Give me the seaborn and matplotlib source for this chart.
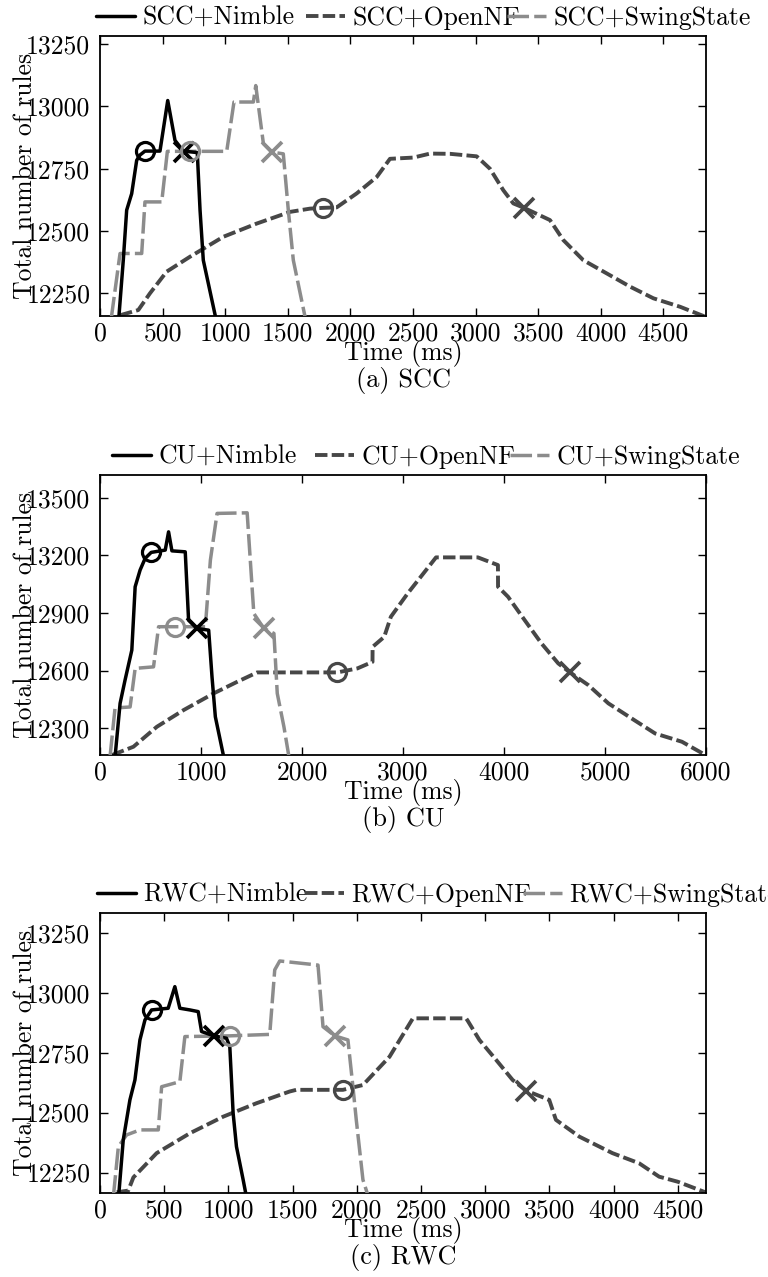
import matplotlib
matplotlib.use("Agg")
import matplotlib.pyplot as plt
from matplotlib.legend import Legend
import seaborn as sns

# ---------------- data (time in ms, total number of rules) ----------------
# (a) SCC
scc_nimble_t = [150, 186, 213, 253, 293, 319, 359, 479, 541, 599, 666, 777, 799, 825, 865, 925]
scc_nimble_v = [12150, 12383, 12584, 12650, 12784, 12805, 12821, 12821, 13024, 12864, 12821, 12815, 12584, 12383, 12290, 12150]
scc_opennf_t = [160, 306, 399, 532, 719, 985, 1251, 1518, 1677, 1779, 1890, 2050, 2210, 2316, 2503, 2636,
                2796, 3008, 3115, 3221, 3301, 3387, 3594, 3700, 3860, 4047, 4233, 4420, 4633, 4840]
scc_opennf_v = [12162, 12183, 12250, 12337, 12397, 12477, 12530, 12577, 12590, 12593, 12595, 12651, 12717, 12790, 12795, 12811,
                12810, 12800, 12750, 12664, 12611, 12593, 12544, 12464, 12383, 12330, 12277, 12230, 12196, 12155]
scc_swing_t = [90, 160, 333, 359, 493, 538, 719, 1012, 1070, 1225, 1244, 1305, 1371, 1464, 1504, 1544, 1640]
scc_swing_v = [12150, 12410, 12410, 12617, 12617, 12820, 12820, 12820, 13018, 13018, 13084, 12851, 12817, 12810, 12584, 12383, 12150]
scc_marks = {"nimble": [(359, 12821), (671, 12817)],
             "opennf": [(1779, 12593), (3387, 12593)],
             "swing": [(719, 12821), (1371, 12817)]}

# (b) CU
cu_nimble_t = [149, 199, 248, 315, 348, 397, 447, 507, 646, 679, 712, 844, 877, 960, 1076, 1109, 1142, 1225]
cu_nimble_v = [12150, 12429, 12550, 12706, 13036, 13123, 13184, 13215, 13227, 13322, 13223, 13218, 12862, 12819, 12810, 12567, 12359, 12150]
cu_opennf_t = [120, 331, 563, 828, 1126, 1358, 1556, 2351, 2549, 2698, 2699, 2814, 2880, 3046, 3327, 3741,
               3940, 3941, 4040, 4205, 4371, 4537, 4653, 4835, 5033, 5265, 5497, 5762, 5994]
cu_opennf_v = [12160, 12203, 12307, 12394, 12481, 12541, 12590, 12590, 12611, 12645, 12723, 12775, 12880, 13001, 13189, 13189,
               13149, 13036, 12984, 12862, 12741, 12637, 12590, 12524, 12429, 12350, 12272, 12229, 12160]
cu_swing_t = [99, 149, 298, 348, 530, 580, 745, 1043, 1093, 1159, 1457, 1523, 1622, 1722, 1755, 1821, 1871]
cu_swing_v = [12150, 12405, 12410, 12611, 12619, 12828, 12828, 12828, 13175, 13418, 13421, 12897, 12819, 12793, 12481, 12307, 12150]
cu_marks = {"nimble": [(507, 13215), (960, 12819)],
            "opennf": [(2351, 12590), (4653, 12590)],
            "swing": [(745, 12828), (1622, 12819)]}

# (c) RWC
rwc_nimble_t = [145, 181, 233, 272, 311, 350, 402, 531, 583, 622, 700, 765, 791, 887, 985, 1011, 1037, 1063, 1115, 1140]
rwc_nimble_v = [12150, 12386, 12553, 12636, 12803, 12886, 12928, 12935, 13025, 12935, 12928, 12921, 12838, 12820, 12810, 12775, 12497, 12358, 12220, 12150]
rwc_opennf_t = [130, 220, 260, 441, 700, 959, 1218, 1477, 1529, 1892, 2048, 2255, 2437, 2851, 2864, 2955,
                3085, 3214, 3318, 3499, 3551, 3733, 3992, 4199, 4355, 4500, 4715]
rwc_opennf_v = [12168, 12175, 12230, 12331, 12414, 12483, 12539, 12588, 12595, 12595, 12615, 12733, 12893, 12893, 12883, 12803,
                12720, 12636, 12592, 12553, 12470, 12400, 12331, 12289, 12233, 12212, 12168]
rwc_swing_t = [104, 143, 207, 311, 454, 480, 622, 661, 1011, 1322, 1361, 1400, 1698, 1737, 1828, 1931, 1970, 1996, 2048, 2090]
rwc_swing_v = [12150, 12358, 12407, 12428, 12428, 12608, 12629, 12817, 12820, 12826, 13095, 13132, 13115, 12858, 12820, 12803, 12608, 12470, 12220, 12150]
rwc_marks = {"nimble": [(402, 12928), (887, 12820)],
             "opennf": [(1892, 12595), (3318, 12592)],
             "swing": [(1011, 12820), (1828, 12820)]}

scc_xticks = [0, 500, 1000, 1500, 2000, 2500, 3000, 3500, 4000, 4500]
cu_xticks = [0, 1000, 2000, 3000, 4000, 5000, 6000]
rwc_xticks = [0, 500, 1000, 1500, 2000, 2500, 3000, 3500, 4000, 4500]
scc_yticks = [12250, 12500, 12750, 13000, 13250]
cu_yticks = [12300, 12600, 12900, 13200, 13500]
rwc_yticks = [12250, 12500, 12750, 13000, 13250]

series_names = {"nimble": "Nimble", "opennf": "OpenNF", "swing": "SwingState"}

# ---------------- style ----------------
sns.set_theme(style="ticks")
plt.rcParams.update({
    "font.family": ["cmr10", "DejaVu Serif"],
    "mathtext.fontset": "cm",
    "axes.formatter.use_mathtext": True,
    "xtick.direction": "in", "ytick.direction": "in",
    "xtick.top": True, "ytick.right": True,
    "axes.edgecolor": "black", "axes.linewidth": 1.3,
    "xtick.color": "black", "ytick.color": "black",
    "text.color": "black", "axes.labelcolor": "black",
})

FS = 18.5
C_NIM, C_ONF, C_SW = "#000000", "#474747", "#8c8c8c"
styles = {
    "nimble": dict(color=C_NIM, lw=2.5, ls="-", z=4),
    "opennf": dict(color=C_ONF, lw=2.8, ls=(0, (3.2, 1.1)), z=2),
    "swing": dict(color=C_SW, lw=2.5, ls=(0, (6.2, 1.5)), z=3),
}

fig = plt.figure(figsize=(7.68, 12.77), dpi=100)
W, H = 768.0, 1277.0
ax_left, ax_w, ax_h = 100 / W, 606 / W, 280 / H


def panel(bottom_px, prefix, data, marks, xlim, ylim, xticks, yticks, caption, leg_px):
    ax = fig.add_axes([ax_left, 1 - bottom_px / H, ax_w, ax_h])
    handles = []
    for key in ["nimble", "opennf", "swing"]:
        t, v = data[key]
        st = styles[key]
        sns.lineplot(x=t, y=v, ax=ax, estimator=None, sort=False, color=st["color"],
                     linewidth=st["lw"], linestyle=st["ls"], zorder=st["z"])
        line = ax.lines[-1]
        handles.append((line, f"{prefix}+{series_names[key]}"))
        (ox, oy), (xx, xy) = marks[key]
        sns.lineplot(x=[ox], y=[oy], ax=ax, estimator=None, marker="o", linestyle="none",
                     markersize=13, markerfacecolor="none", markeredgecolor=st["color"],
                     markeredgewidth=2.3, zorder=6)
        sns.lineplot(x=[xx], y=[xy], ax=ax, estimator=None, marker="x", linestyle="none",
                     markersize=14, markeredgecolor=st["color"], color=st["color"],
                     markeredgewidth=2.7, zorder=6)
    if ax.get_legend() is not None:
        ax.get_legend().remove()
    ax.set_xlim(*xlim)
    ax.set_ylim(*ylim)
    ax.set_xticks(xticks, [str(x) for x in xticks])
    ax.set_yticks(yticks, [str(y) for y in yticks])
    ax.tick_params(axis="both", labelsize=FS, length=6, width=1.0)
    ax.tick_params(axis="x", pad=4.5)
    ax.tick_params(axis="y", pad=7)
    ax.set_xlabel("Time (ms)", fontsize=FS)
    ax.xaxis.set_label_coords(0.5, -0.086)
    ax.set_ylabel("Total number of rules", fontsize=FS)
    ax.yaxis.set_label_coords(-0.104, 0.5)
    ax.text(0.5, -0.229, caption, transform=ax.transAxes, ha="center", va="center", fontsize=19)
    for (h, lab), px in zip(handles, leg_px):
        leg = Legend(ax, [h], [lab], loc="center left",
                     bbox_to_anchor=((px - 100) / 606, 1 + 18 / 280),
                     frameon=False, fontsize=FS, handlelength=1.5, handletextpad=0.3,
                     borderpad=0, borderaxespad=0)
        ax.add_artist(leg)
    return ax


panel(316, "SCC",
      {"nimble": (scc_nimble_t, scc_nimble_v), "opennf": (scc_opennf_t, scc_opennf_v), "swing": (scc_swing_t, scc_swing_v)},
      scc_marks, (0, 4840), (12159, 13283), scc_xticks, scc_yticks, "(a) SCC", [96, 306, 507])
panel(755, "CU",
      {"nimble": (cu_nimble_t, cu_nimble_v), "opennf": (cu_opennf_t, cu_opennf_v), "swing": (cu_swing_t, cu_swing_v)},
      cu_marks, (0, 6000), (12160, 13618), cu_xticks, cu_yticks, "(b) CU", [112, 315, 510])
panel(1193, "RWC",
      {"nimble": (rwc_nimble_t, rwc_nimble_v), "opennf": (rwc_opennf_t, rwc_opennf_v), "swing": (rwc_swing_t, rwc_swing_v)},
      rwc_marks, (0, 4720), (12165, 13332), rwc_xticks, rwc_yticks, "(c) RWC", [97, 305, 523])

fig.savefig("out.png", dpi=100)
